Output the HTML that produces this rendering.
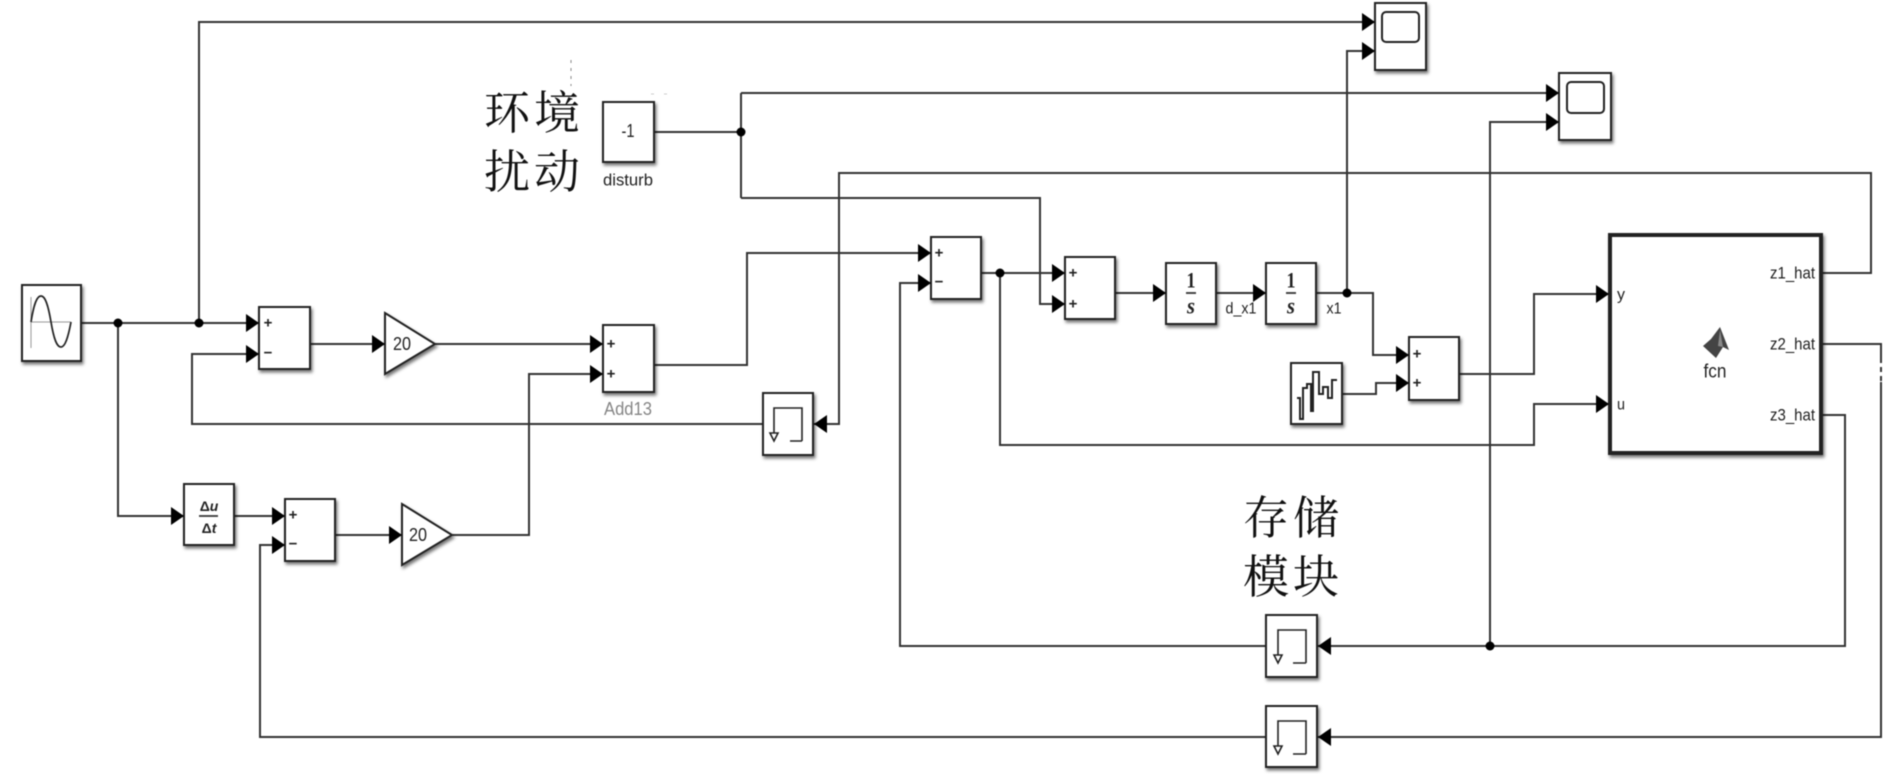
<!DOCTYPE html>
<html lang="zh">
<head>
<meta charset="utf-8">
<title>Simulink diagram</title>
<style>
html,body{margin:0;padding:0;background:#fff;width:1890px;height:774px;overflow:hidden}
svg{display:block;filter:blur(.5px)}
.w{fill:none;stroke:#333;stroke-width:2}
.a{fill:#000}
.b{fill:#fff;stroke:#222;stroke-width:2;filter:url(#sh)}
.i{fill:none;stroke:#222;stroke-width:1.6}
text{font-family:"Liberation Sans",sans-serif;fill:#222;text-anchor:middle;dominant-baseline:central}
.cjk{font-family:"Liberation Serif","Noto Serif CJK SC",serif;font-size:46px;fill:#111;text-anchor:start;dominant-baseline:auto}
.op{font-size:15px;font-weight:bold}
.fr{font-family:"Liberation Serif",serif;font-weight:bold;font-style:italic}
</style>
</head>
<body>
<svg width="1890" height="774" viewBox="0 0 1890 774" xmlns="http://www.w3.org/2000/svg">
<defs>
<filter id="sh" x="-15%" y="-15%" width="135%" height="135%">
<feDropShadow dx="1.5" dy="2.5" stdDeviation="1.5" flood-color="#000" flood-opacity=".55"/>
</filter>
</defs>

<!-- wires -->
<g class="w">
<path d="M81 323H259"/>
<path d="M118 323V516H184"/>
<path d="M763 424H192V354H259"/>
<path d="M199 323V22H1375"/>
<path d="M310 344H385"/>
<path d="M435 344H603"/>
<path d="M234 516H285"/>
<path d="M335 535H402"/>
<path d="M452 535H529V374H603"/>
<path d="M654 365H747V253H931"/>
<path d="M654 132H741"/>
<path d="M741 93V198"/>
<path d="M741 93H1559"/>
<path d="M741 198H1040V304H1065"/>
<path d="M981 273H1065"/>
<path d="M1000 273V445H1534V404H1609"/>
<path d="M1115 293H1166"/>
<path d="M1216 293H1266"/>
<path d="M1316 293H1373V355H1409"/>
<path d="M1347 293V51H1375"/>
<path d="M1342 394H1376V383H1409"/>
<path d="M1459 374H1534V294H1609"/>
<path d="M1821 273H1871V173H839V424H813"/>
<path d="M1821 344H1881V737H1317"/>
<path d="M1821 415H1845V646H1317"/>
<path d="M1490 646V122H1559"/>
<path d="M1266 646H900V283H931"/>
<path d="M1266 737H260V545H285"/>
</g>

<!-- faint white gaps and stray dots -->
<path d="M1881 363V382" stroke="#fff" stroke-width="3" stroke-dasharray="4 5" fill="none"/>
<path d="M571 60V86" stroke="#888" stroke-width="1" stroke-dasharray="3 5" fill="none"/>
<path d="M651 94H672" stroke="#ccc" stroke-width="1" stroke-dasharray="3 10" fill="none"/>

<!-- junctions -->
<g fill="#000">
<circle cx="118" cy="323" r="4.5"/>
<circle cx="199" cy="323" r="4.5"/>
<circle cx="741" cy="132" r="4.5"/>
<circle cx="1000" cy="273" r="4.5"/>
<circle cx="1347" cy="293" r="4.5"/>
<circle cx="1490" cy="646" r="4.5"/>
</g>

<!-- blocks -->
<rect class="b" x="22" y="285" width="59" height="76"/>
<rect class="b" x="259" y="307" width="51" height="62"/>
<polygon class="b" points="385,313 435,344 385,374"/>
<rect class="b" x="184" y="484" width="50" height="61"/>
<rect class="b" x="285" y="499" width="50" height="62"/>
<polygon class="b" points="402,504 452,535 402,565"/>
<rect class="b" x="603" y="102" width="51" height="60"/>
<rect class="b" x="603" y="325" width="51" height="67"/>
<rect class="b" x="763" y="393" width="50" height="62"/>
<rect class="b" x="931" y="237" width="50" height="62"/>
<rect class="b" x="1065" y="257" width="50" height="62"/>
<rect class="b" x="1166" y="263" width="50" height="61"/>
<rect class="b" x="1266" y="263" width="50" height="61"/>
<rect class="b" x="1291" y="363" width="51" height="61"/>
<rect class="b" x="1409" y="337" width="50" height="63"/>
<rect class="b" x="1375" y="3" width="51" height="67"/>
<rect class="b" x="1559" y="73" width="52" height="67"/>
<rect class="b" x="1266" y="615" width="51" height="62"/>
<rect class="b" x="1266" y="706" width="51" height="61"/>
<rect class="b" x="1610" y="235" width="211" height="218" style="stroke-width:4"/>

<!-- arrowheads -->
<g class="a">
<polygon points="246,314 259,323 246,332"/>
<polygon points="246,345 259,354 246,363"/>
<polygon points="372,335 385,344 372,353"/>
<polygon points="171,507 184,516 171,525"/>
<polygon points="272,507 285,516 272,525"/>
<polygon points="272,536 285,545 272,554"/>
<polygon points="389,526 402,535 389,544"/>
<polygon points="590,335 603,344 590,353"/>
<polygon points="590,365 603,374 590,383"/>
<polygon points="918,244 931,253 918,262"/>
<polygon points="918,274 931,283 918,292"/>
<polygon points="1052,264 1065,273 1052,282"/>
<polygon points="1052,295 1065,304 1052,313"/>
<polygon points="1153,284 1166,293 1153,302"/>
<polygon points="1253,284 1266,293 1253,302"/>
<polygon points="1396,346 1409,355 1396,364"/>
<polygon points="1396,374 1409,383 1396,392"/>
<polygon points="1596,285 1609,294 1596,303"/>
<polygon points="1596,395 1609,404 1596,413"/>
<polygon points="1362,13 1375,22 1362,31"/>
<polygon points="1362,42 1375,51 1362,60"/>
<polygon points="1546,84 1559,93 1546,102"/>
<polygon points="1546,113 1559,122 1546,131"/>
<polygon points="814,424 827,415 827,433"/>
<polygon points="1318,646 1331,637 1331,655"/>
<polygon points="1318,737 1331,728 1331,746"/>
</g>

<!-- sine icon -->
<path d="M31 297V348M31 322H71" stroke="#999" stroke-width="1" fill="none"/>
<path d="M31 322C34 303 37 296 41 296C45 296 48 304 51 322C54 340 57 347 61 347C65 347 68 338 71 322" fill="none" stroke="#222" stroke-width="1.7"/>

<!-- signs -->
<g class="op">
<text x="268" y="323">+</text><text x="268" y="353">−</text>
<text x="293" y="515">+</text><text x="293" y="544">−</text>
<text x="611" y="344">+</text><text x="611" y="374">+</text>
<text x="939" y="253">+</text><text x="939" y="282">−</text>
<text x="1073" y="273">+</text><text x="1073" y="304">+</text>
<text x="1417" y="354">+</text><text x="1417" y="383">+</text>
</g>

<!-- gains and constants -->
<text x="402" y="344" font-size="18" textLength="18" lengthAdjust="spacingAndGlyphs">20</text>
<text x="418" y="535" font-size="18" textLength="18" lengthAdjust="spacingAndGlyphs">20</text>
<text x="628" y="131" font-size="18" textLength="13" lengthAdjust="spacingAndGlyphs">-1</text>
<text x="628" y="180" font-size="17" textLength="50" lengthAdjust="spacingAndGlyphs">disturb</text>
<text x="628" y="409" font-size="18" textLength="48" lengthAdjust="spacingAndGlyphs" style="fill:#858585">Add13</text>
<text x="1241" y="309" font-size="16" textLength="31" lengthAdjust="spacingAndGlyphs">d_x1</text>
<text x="1334" y="309" font-size="16" textLength="15" lengthAdjust="spacingAndGlyphs">x1</text>

<!-- derivative -->
<text x="209" y="506" font-size="14" font-weight="bold"><tspan>Δ</tspan><tspan font-style="italic">u</tspan></text>
<path d="M199 516H218" stroke="#333" stroke-width="1.7"/>
<text x="209" y="528" font-size="14" font-weight="bold"><tspan>Δ</tspan><tspan font-style="italic">t</tspan></text>

<!-- integrators -->
<text x="1191" y="280" font-size="22" textLength="9" lengthAdjust="spacingAndGlyphs" class="fr" style="font-style:normal">1</text>
<path d="M1186 293H1196" stroke="#333" stroke-width="1.8"/>
<text x="1191" y="306" font-size="23" textLength="8" lengthAdjust="spacingAndGlyphs" class="fr">s</text>
<text x="1291" y="280" font-size="22" textLength="9" lengthAdjust="spacingAndGlyphs" class="fr" style="font-style:normal">1</text>
<path d="M1286 293H1296" stroke="#333" stroke-width="1.8"/>
<text x="1291" y="306" font-size="23" textLength="8" lengthAdjust="spacingAndGlyphs" class="fr">s</text>

<!-- random icon -->
<path d="M1297 398H1300V419H1303V388H1307V384H1311V411H1313V372H1319V394H1323V387H1328V398H1332V380H1337" fill="none" stroke="#222" stroke-width="2"/>

<!-- scope screens -->
<rect x="1382" y="12" width="37" height="30" rx="4" fill="none" stroke="#222" stroke-width="2"/>
<rect x="1567" y="82" width="37" height="31" rx="4" fill="none" stroke="#222" stroke-width="2"/>

<!-- memory icons -->
<g class="i">
<path d="M802 441H790M802 441V408H774V433"/><polygon points="770,433 778,433 774,441"/>
<path d="M1306 663H1293M1306 663V630H1278V655"/><polygon points="1274,655 1282,655 1278,663"/>
<path d="M1306 754H1293M1306 754V721H1278V746"/><polygon points="1274,746 1282,746 1278,754"/>
</g>

<!-- fcn block -->
<text x="1621" y="295" font-size="16" textLength="8" lengthAdjust="spacingAndGlyphs">y</text>
<text x="1621" y="405" font-size="16" textLength="8" lengthAdjust="spacingAndGlyphs">u</text>
<text x="1792.5" y="273" font-size="17" textLength="45" lengthAdjust="spacingAndGlyphs">z1_hat</text>
<text x="1792.5" y="344" font-size="17" textLength="45" lengthAdjust="spacingAndGlyphs">z2_hat</text>
<text x="1792.5" y="415" font-size="17" textLength="45" lengthAdjust="spacingAndGlyphs">z3_hat</text>
<text x="1715" y="372" font-size="19" textLength="23" lengthAdjust="spacingAndGlyphs">fcn</text>
<polygon points="1703,346 1711,339 1720,327 1729,350 1723,347 1716,358" fill="#444"/>
<polygon points="1720,330 1723,347 1718,346" fill="#8a8a8a"/>

<!-- Chinese labels -->
<text class="cjk" x="484" y="129">环</text><text class="cjk" x="534" y="129">境</text>
<text class="cjk" x="484" y="188">扰</text><text class="cjk" x="534" y="188">动</text>
<text class="cjk" x="1243" y="534">存</text><text class="cjk" x="1293" y="534">储</text>
<text class="cjk" x="1243" y="593">模</text><text class="cjk" x="1293" y="593">块</text>
</svg>
</body>
</html>
